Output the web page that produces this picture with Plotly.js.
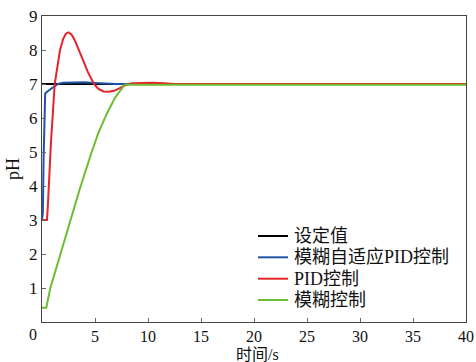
<!DOCTYPE html>
<html>
<head>
<meta charset="utf-8">
<script src="https://cdn.plot.ly/plotly-3.0.1.min.js"></script>
<style>
  html, body { margin: 0; padding: 0; background: #fff; }
  #chart { width: 476px; height: 362px; }
</style>
</head>
<body>
<div id="chart"></div>
<script>
// pH step responses of the three controllers against the setpoint
const seriesNames = ['设定值', '模糊自适应PID控制', 'PID控制', '模糊控制'];
const seriesColors = ['#000000', '#2152a3', '#e5232b', '#6cbd32'];

const setT = [0, 40];
const setPH = [7, 7];

const fuzzyPidT = [0, 0.08, 0.15, 0.22, 0.3, 0.6, 0.9, 1.2, 1.5, 2.0, 2.7, 4.0, 5.0, 6.0, 7.0, 40];
const fuzzyPidPH = [3, 3.2, 4.8, 6.2, 6.72, 6.8, 6.86, 6.94, 7.0, 7.04, 7.05, 7.05, 7.03, 7.01, 7.0, 7.0];

const pidT = [0, 0.47, 0.55, 0.85, 1.2, 1.45, 1.7, 2.0, 2.25, 2.5, 2.8, 3.1, 3.5, 3.9, 4.3, 4.6, 4.9, 5.3, 5.8, 6.3, 6.8, 7.3, 7.9, 8.5, 9.5, 10.5, 11.5, 12.5, 40];
const pidPH = [3, 3, 3.4, 5.3, 7.0, 7.55, 8.0, 8.33, 8.48, 8.52, 8.45, 8.28, 8.0, 7.68, 7.37, 7.17, 7.0, 6.86, 6.78, 6.77, 6.8, 6.87, 6.97, 7.02, 7.04, 7.04, 7.02, 7.0, 7.0];

const fuzzyT = [0, 0.4, 0.79, 1.73, 2.68, 3.6, 4.6, 5.3, 6.1, 6.9, 7.8, 40];
const fuzzyPH = [0.42, 0.42, 1.0, 2.0, 3.0, 3.95, 4.92, 5.55, 6.12, 6.6, 6.98, 6.98];

const xTicks = [0, 5, 10, 15, 20, 25, 30, 35, 40];
const xTickText = ['', '5', '10', '15', '20', '25', '30', '35', '40'];
const yTicks = [1, 2, 3, 4, 5, 6, 7, 8, 9];

const serif = '"Liberation Serif", "Times New Roman", "Noto Sans CJK SC", serif';
const textFont = { family: serif, size: 18, color: '#111' };
const tickFont = { family: serif, size: 17, color: '#111' };
const xTickFont = { family: serif, size: 16, color: '#111' };
const titleFont = { family: serif, size: 16, color: '#111' };

const xs = [setT, fuzzyPidT, pidT, fuzzyT];
const ys = [setPH, fuzzyPidPH, pidPH, fuzzyPH];

const traces = seriesNames.map((name, i) => ({
  x: xs[i],
  y: ys[i],
  name: name,
  type: 'scatter',
  mode: 'lines',
  line: { color: seriesColors[i], width: 2 }
}));

const axisCommon = {
  showgrid: false,
  zeroline: false,
  showline: true,
  linecolor: '#444',
  linewidth: 1,
  mirror: true,
  ticks: 'inside',
  ticklen: 4,
  tickcolor: '#666'
};

// Legend block in the lower right of the plot: short line sample + label per series
const legendRowsY = [0.281, 0.2114, 0.1415, 0.0719];
const legendShapes = seriesNames.map((n, i) => ({
  type: 'line', xref: 'paper', yref: 'paper',
  x0: 0.5094, x1: 0.5802, y0: legendRowsY[i], y1: legendRowsY[i],
  line: { color: seriesColors[i], width: 2 }
}));
const legendLabels = seriesNames.map((n, i) => ({
  text: n, xref: 'paper', yref: 'paper',
  x: 0.589, y: legendRowsY[i], xanchor: 'left', yanchor: 'middle',
  showarrow: false, font: textFont
}));

const layout = {
  width: 476,
  height: 362,
  margin: { l: 42, r: 10, t: 16, b: 40 },
  paper_bgcolor: '#fff',
  plot_bgcolor: '#fff',
  font: textFont,
  showlegend: false,
  xaxis: Object.assign({}, axisCommon, {
    range: [0, 40],
    tickfont: xTickFont,
    tickmode: 'array', tickvals: xTicks, ticktext: xTickText
  }),
  yaxis: Object.assign({}, axisCommon, {
    range: [0, 9],
    tickfont: tickFont,
    tickmode: 'array', tickvals: yTicks,
    title: { text: 'pH', font: textFont, standoff: 4 }
  }),
  shapes: legendShapes,
  annotations: [
    {
      text: '0', xref: 'x', yref: 'paper', x: 0, y: 0,
      yanchor: 'top', xanchor: 'center', xshift: -9, yshift: -2,
      showarrow: false, font: xTickFont
    },
    {
      // x-axis title, placed at the bottom edge under the tick labels
      text: '时间/s', xref: 'paper', yref: 'paper', x: 0.509, y: -0.1078,
      xanchor: 'center', yanchor: 'middle', borderpad: 0,
      showarrow: false, font: titleFont
    }
  ].concat(legendLabels)
};

Plotly.newPlot('chart', traces, layout, { displayModeBar: false, staticPlot: true });
</script>
</body>
</html>
